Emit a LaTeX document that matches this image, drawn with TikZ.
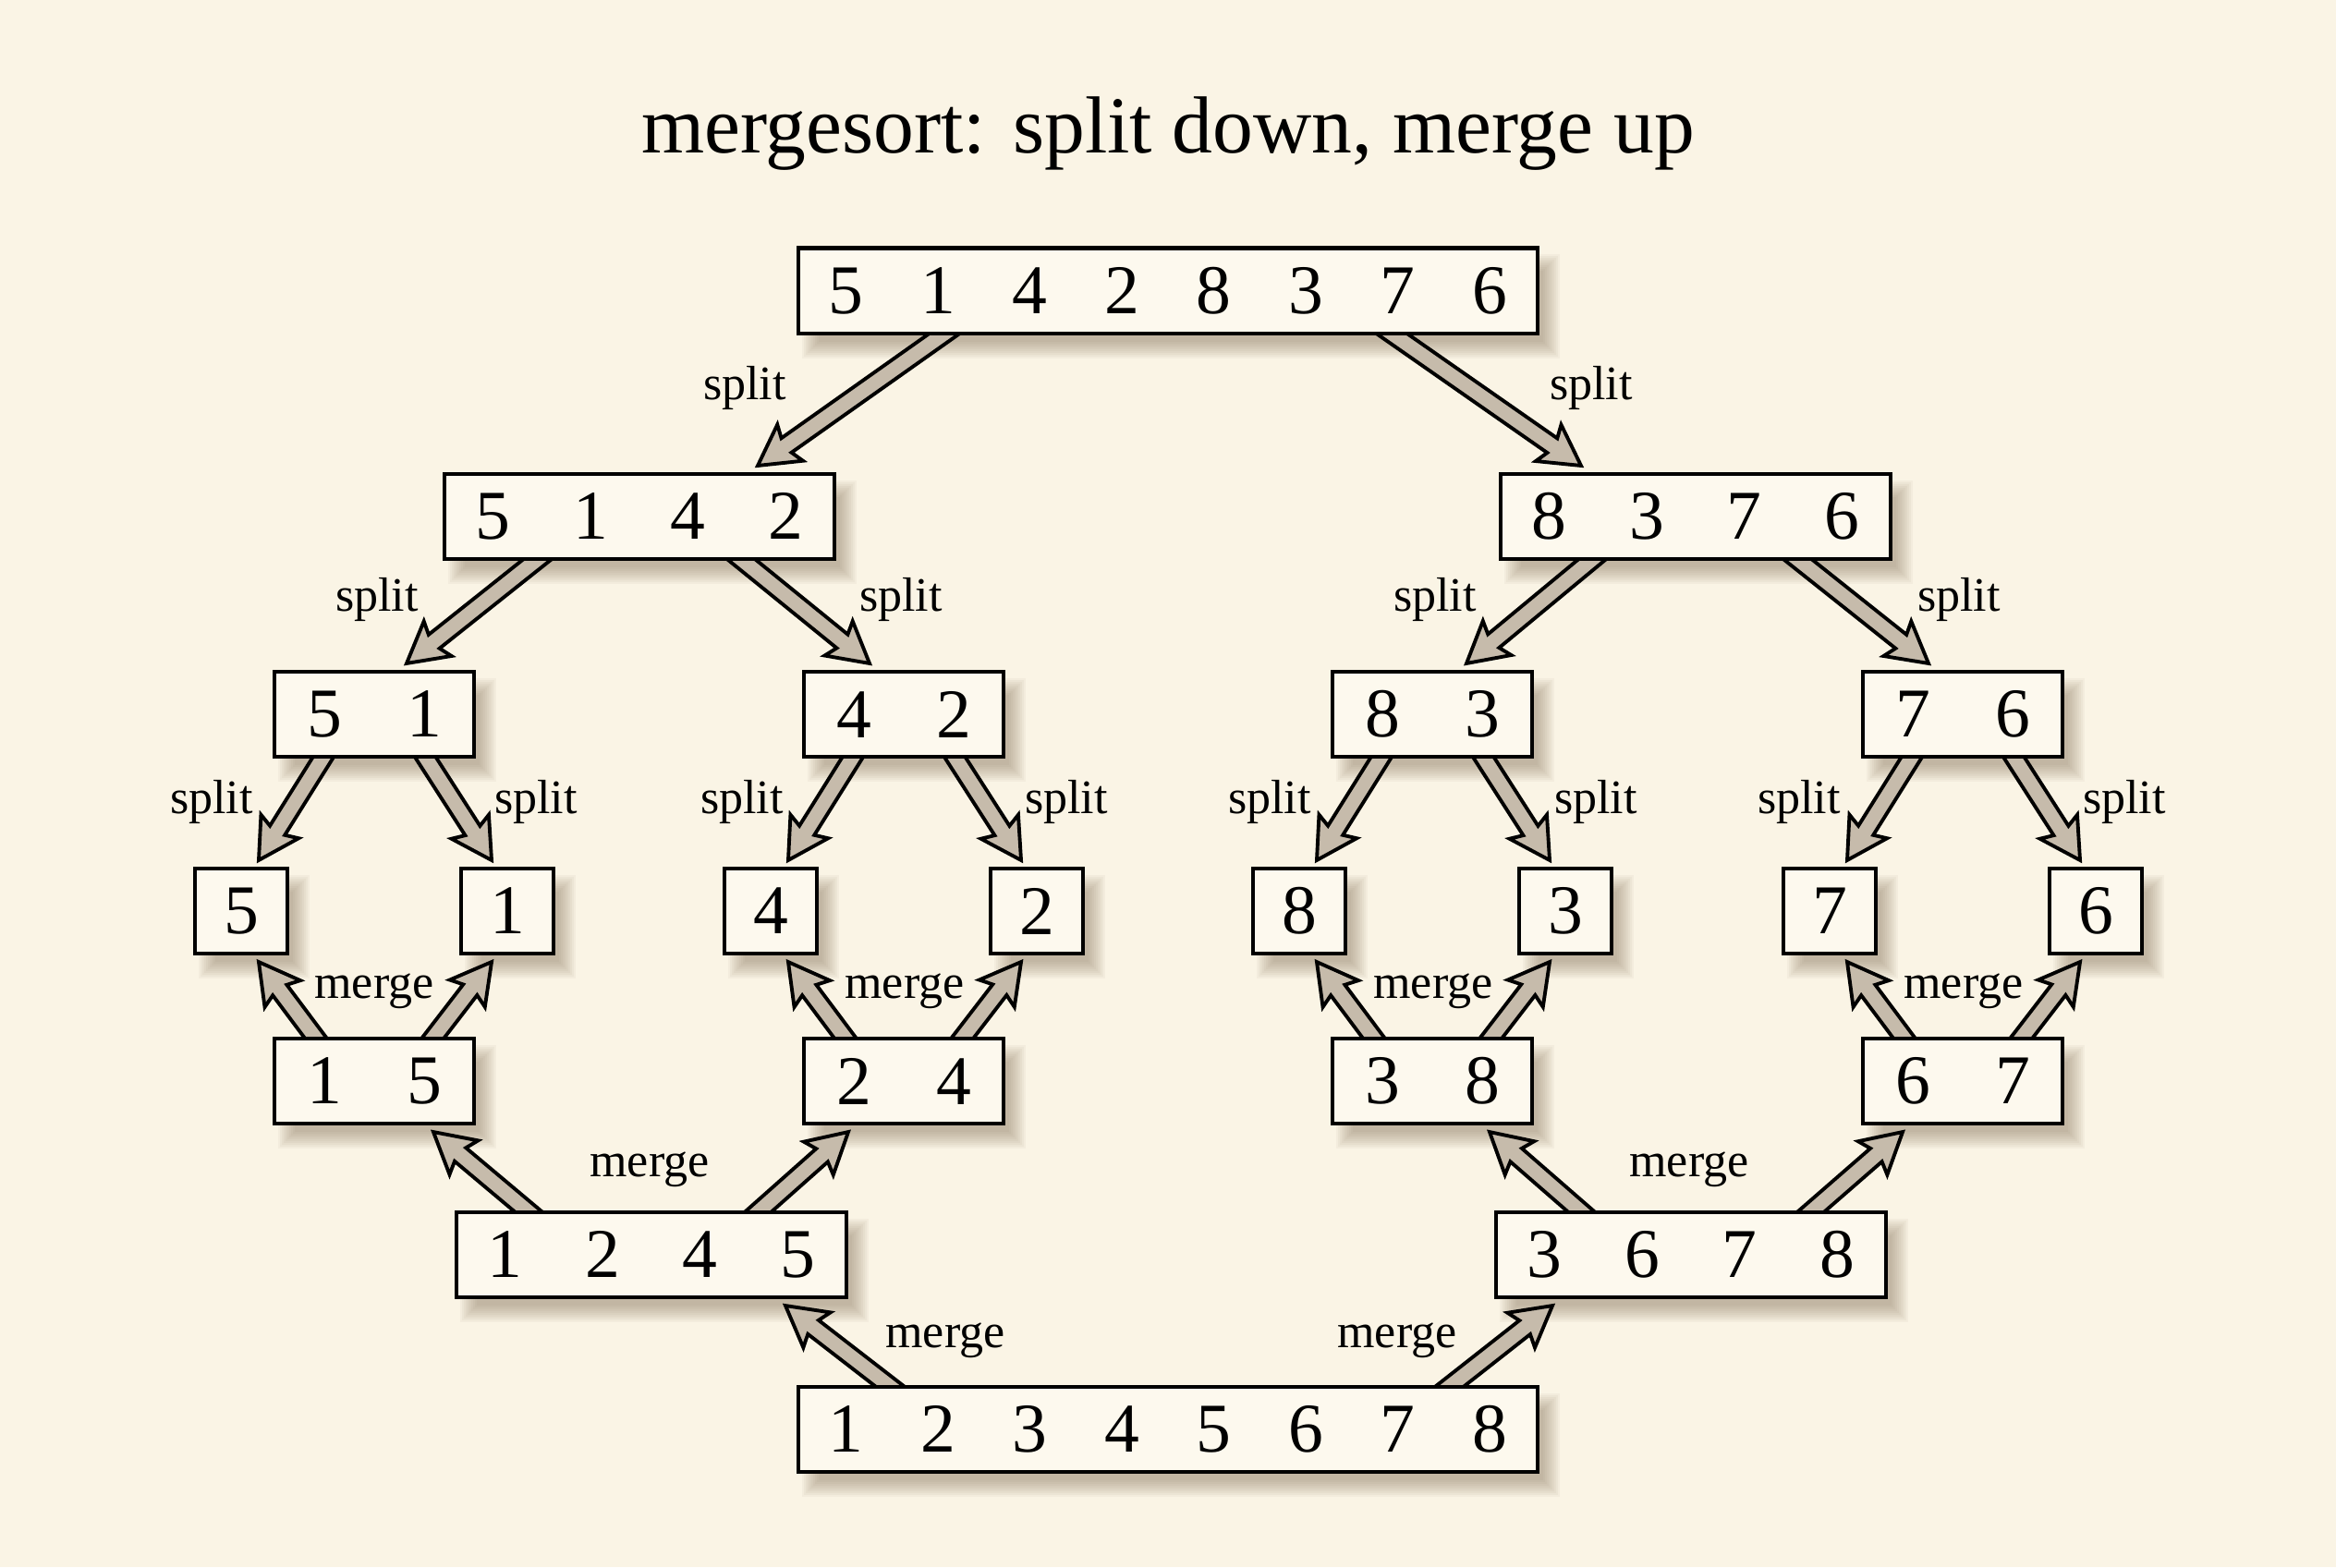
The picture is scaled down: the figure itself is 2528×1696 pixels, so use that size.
\documentclass[tikz,border=0pt]{standalone}
\usepackage{fontspec}
\setmainfont{Liberation Serif}
\usetikzlibrary{calc}
\definecolor{bgc}{RGB}{250,244,229}
\definecolor{boxc}{RGB}{253,249,238}
\definecolor{arrc}{RGB}{198,187,171}
\definecolor{shadc}{RGB}{120,100,75}
\pgfdeclarelayer{bgl}
\pgfdeclarelayer{shadl}
\pgfdeclarelayer{arrl}
\pgfsetlayers{bgl,shadl,arrl,main}
\newlength\dpitch
\newcommand\dd[1]{\makebox[\dpitch]{#1}}
\newcommand\fatarr[2]{%
  \begin{pgfonlayer}{arrl}
    \coordinate (fa) at (#1);
    \coordinate (fb) at (#2);
    \coordinate (fj) at ($(fb)!0.38cm!(fa)$);
    \coordinate (fk) at ($(fb)!0.43cm!(fa)$);
    \draw[fatarrow] ($(fa)!0.095cm!90:(fb)$) -- ($(fj)!0.095cm!90:(fb)$)
      -- ($(fk)!0.24cm!90:(fb)$) -- (fb) -- ($(fk)!0.24cm!-90:(fb)$)
      -- ($(fj)!0.095cm!-90:(fb)$) -- ($(fa)!0.095cm!-90:(fb)$) -- cycle;
  \end{pgfonlayer}}
\newcommand\shd[1]{%
  \begin{pgfonlayer}{shadl}
    \foreach \k in {-5,...,4}{
      \fill[shadc, fill opacity=0.05]
        ($(#1.south west)+(14-2*\k,17+2*\k)$) rectangle ($(#1.north east)+(14+2*\k,17-2*\k)$);
    }
  \end{pgfonlayer}}
\tikzset{
  box/.style={draw=black, line width=1.15pt, fill=boxc, inner sep=0pt,
    minimum height=0.92cm, font=\fontsize{21.5}{26}\selectfont},
  boxe/.style={box, minimum width=8cm, execute at begin node={\setlength\dpitch{0.995cm}}},
  boxf/.style={box, minimum width=4.2cm, execute at begin node={\setlength\dpitch{1.055cm}}},
  boxt/.style={box, minimum width=2.16cm, execute at begin node={\setlength\dpitch{1.08cm}}},
  boxo/.style={box, minimum width=1.0cm, execute at begin node={\setlength\dpitch{1.0cm}}},
  fatarrow/.style={draw=black, line width=1.1pt, fill=arrc, line join=miter, miter limit=10},
  lab/.style={font=\fontsize{14.8}{17}\selectfont, anchor=base, inner sep=0pt},
  ttl/.style={font=\fontsize{24.9}{30}\selectfont, anchor=base, inner sep=0pt}
}
\begin{document}
\begin{tikzpicture}[x=0.01cm,y=-0.01cm]
\begin{pgfonlayer}{bgl}
\fill[bgc] (0,0) rectangle (2528,1696);
\end{pgfonlayer}
\useasboundingbox (0,0) rectangle (2528,1696);

\node[ttl] (title) at (1264,165) {mergesort: split down, merge up};

% boxes
\node[boxe] (T) at (1264,314.5) {\dd5\dd1\dd4\dd2\dd8\dd3\dd7\dd6};
\node[boxf] (LL) at (692,559) {\dd5\dd1\dd4\dd2};
\node[boxf] (LR) at (1835,559) {\dd8\dd3\dd7\dd6};
\node[boxt] (a51) at (405,773) {\dd5\dd1};
\node[boxt] (a42) at (978,773) {\dd4\dd2};
\node[boxt] (a83) at (1550,773) {\dd8\dd3};
\node[boxt] (a76) at (2124,773) {\dd7\dd6};
\node[boxo] (s5) at (261,986) {5};
\node[boxo] (s1) at (549,986) {1};
\node[boxo] (s4) at (834,986) {4};
\node[boxo] (s2) at (1122,986) {2};
\node[boxo] (s8) at (1406,986) {8};
\node[boxo] (s3) at (1694,986) {3};
\node[boxo] (s7) at (1980,986) {7};
\node[boxo] (s6) at (2268,986) {6};
\node[boxt] (m15) at (405,1170) {\dd1\dd5};
\node[boxt] (m24) at (978,1170) {\dd2\dd4};
\node[boxt] (m38) at (1550,1170) {\dd3\dd8};
\node[boxt] (m67) at (2124,1170) {\dd6\dd7};
\node[boxf] (cL) at (705,1358) {\dd1\dd2\dd4\dd5};
\node[boxf] (cR) at (1830,1358) {\dd3\dd6\dd7\dd8};
\node[boxe] (B) at (1264,1547) {\dd1\dd2\dd3\dd4\dd5\dd6\dd7\dd8};

\foreach \n in {T,LL,LR,a51,a42,a83,a76,s5,s1,s4,s2,s8,s3,s7,s6,m15,m24,m38,m67,cL,cR,B}{\shd{\n}}

% split arrows
\fatarr{$(T.south)+(-230,-10)$}{$(LL.north)+(128,-7)$}
\fatarr{$(T.south)+(230,-10)$}{$(LR.north)+(-124,-7)$}
\fatarr{$(LL.south)+(-100,-10)$}{$(a51.north)+(35,-7)$}
\fatarr{$(LL.south)+(100,-10)$}{$(a42.north)+(-37,-7)$}
\fatarr{$(LR.south)+(-102,-10)$}{$(a83.north)+(37,-7)$}
\fatarr{$(LR.south)+(100,-10)$}{$(a76.north)+(-37,-7)$}
\fatarr{$(a51.south)+(-50,-10)$}{$(s5.north)+(19,-7)$}
\fatarr{$(a51.south)+(50,-10)$}{$(s1.north)+(-17,-7)$}
\fatarr{$(a42.south)+(-50,-10)$}{$(s4.north)+(19,-7)$}
\fatarr{$(a42.south)+(50,-10)$}{$(s2.north)+(-17,-7)$}
\fatarr{$(a83.south)+(-50,-10)$}{$(s8.north)+(19,-7)$}
\fatarr{$(a83.south)+(50,-10)$}{$(s3.north)+(-17,-7)$}
\fatarr{$(a76.south)+(-50,-10)$}{$(s7.north)+(19,-7)$}
\fatarr{$(a76.south)+(50,-10)$}{$(s6.north)+(-17,-7)$}

% merge arrows
\fatarr{$(m15.north)+(-57,10)$}{$(s5.south)+(19,7)$}
\fatarr{$(m15.north)+(57,10)$}{$(s1.south)+(-17,7)$}
\fatarr{$(m24.north)+(-57,10)$}{$(s4.south)+(19,7)$}
\fatarr{$(m24.north)+(57,10)$}{$(s2.south)+(-17,7)$}
\fatarr{$(m38.north)+(-57,10)$}{$(s8.south)+(19,7)$}
\fatarr{$(m38.north)+(57,10)$}{$(s3.south)+(-17,7)$}
\fatarr{$(m67.north)+(-57,10)$}{$(s7.south)+(19,7)$}
\fatarr{$(m67.north)+(57,10)$}{$(s6.south)+(-17,7)$}
\fatarr{$(cL.north)+(-123,10)$}{$(m15.south)+(64,7)$}
\fatarr{$(cL.north)+(106,10)$}{$(m24.south)+(-60,7)$}
\fatarr{$(cR.north)+(-109,10)$}{$(m38.south)+(62,7)$}
\fatarr{$(cR.north)+(120,10)$}{$(m67.south)+(-65,7)$}
\fatarr{$(B.north)+(-290,10)$}{$(cL.south)+(145,7)$}
\fatarr{$(B.north)+(294,10)$}{$(cR.south)+(-150,7)$}

% labels
\node[lab] (ls1) at (806,432) {split};
\node[lab] (ls2) at (1722,432) {split};
\node[lab] (ls3) at (408,661) {split};
\node[lab] (ls4) at (975,661) {split};
\node[lab] (ls5) at (1553,661) {split};
\node[lab] (ls6) at (2120,661) {split};
\node[lab] (ls7) at (229,880) {split};
\node[lab] (ls8) at (580,880) {split};
\node[lab] (ls9) at (803,880) {split};
\node[lab] (ls10) at (1154,880) {split};
\node[lab] (ls11) at (1374,880) {split};
\node[lab] (ls12) at (1727,880) {split};
\node[lab] (ls13) at (1947,880) {split};
\node[lab] (ls14) at (2299,880) {split};
\node[lab] (lm1) at (405,1080) {merge};
\node[lab] (lm2) at (979,1080) {merge};
\node[lab] (lm3) at (1551,1080) {merge};
\node[lab] (lm4) at (2125,1080) {merge};
\node[lab] (lm5) at (703,1273) {merge};
\node[lab] (lm6) at (1828,1273) {merge};
\node[lab] (lm7) at (1023,1458) {merge};
\node[lab] (lm8) at (1512,1458) {merge};
\end{tikzpicture}
\end{document}
